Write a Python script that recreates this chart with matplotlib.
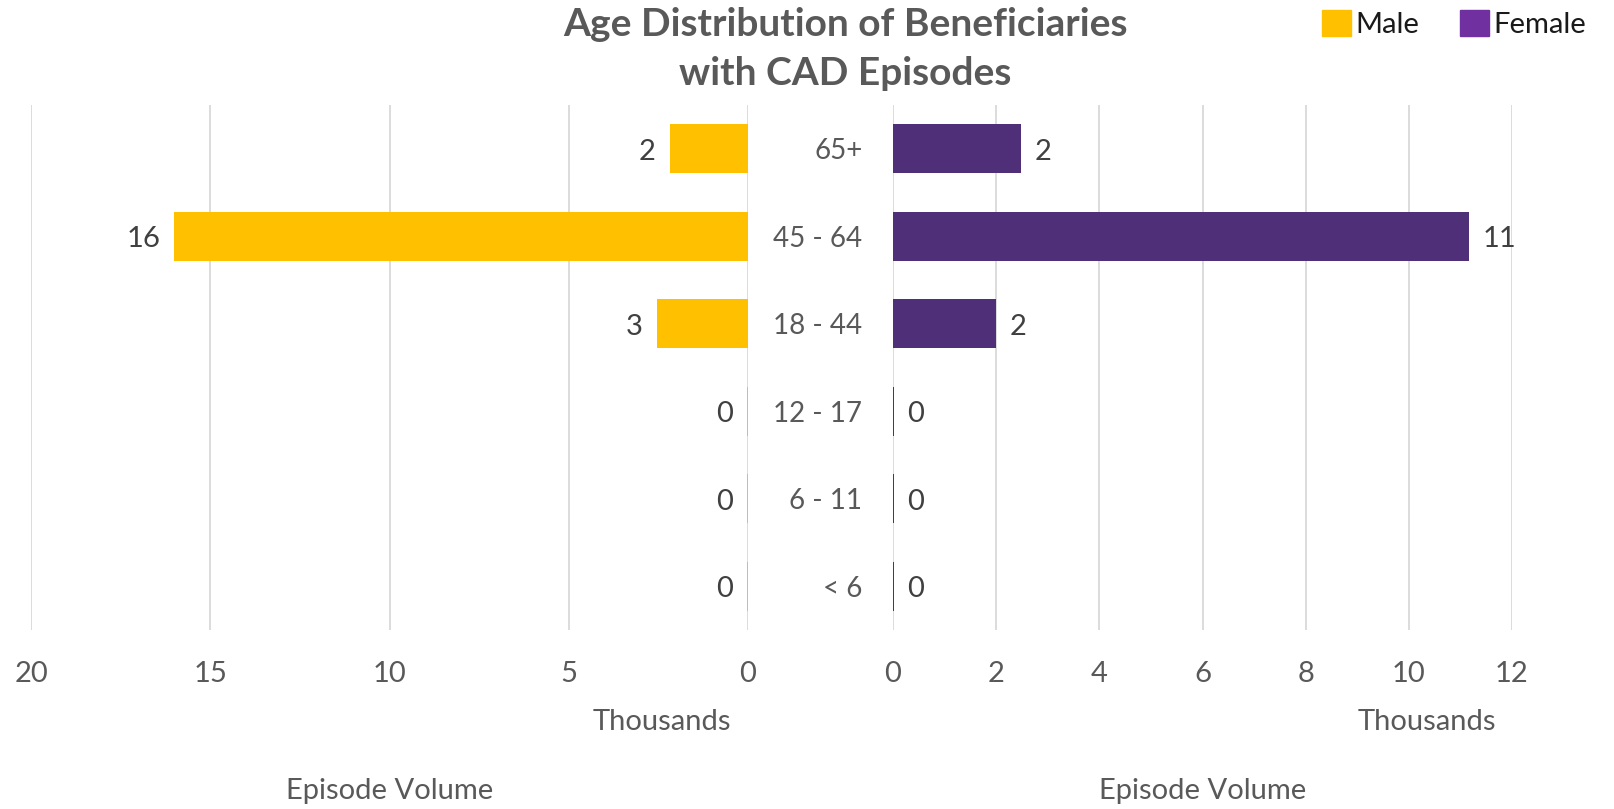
import matplotlib.pyplot as plt
from matplotlib.patches import Patch
import numpy as np

# data (thousands of episodes)
age_groups = ["< 6", "6 - 11", "12 - 17", "18 - 44", "45 - 64", "65+"]
male = [0.04, 0.04, 0.04, 2.55, 16.0, 2.18]
female = [0.01, 0.01, 0.01, 2.0, 11.16, 2.48]
male_ticks = [0, 5, 10, 15, 20]
female_ticks = [0, 2, 4, 6, 8, 10, 12]

plt.rcParams['font.family'] = ['Lato', 'DejaVu Sans']

c_male = "#FFC000"
c_female_bar = "#4F3078"
c_female_leg = "#7030A0"
grid_c = "#D9D9D9"
tick_c = "#595959"
lab_c = "#404040"
fs = 21

fig = plt.figure(figsize=(16.14, 8.09), dpi=100)
axL = fig.add_axes([31 / 1614, 1 - 630 / 809, (748 - 31) / 1614, 525 / 809])
axR = fig.add_axes([893 / 1614, 1 - 630 / 809, (1512 - 893) / 1614, 525 / 809])

y = np.arange(len(age_groups))
h = 0.565

axL.barh(y, male, height=h, color=c_male)
axR.barh(y, female, height=h, color=c_female_bar)

axL.set_xlim(20, 0)
axR.set_xlim(0, 12)
for ax in (axL, axR):
    ax.set_ylim(-0.5, len(age_groups) - 0.5)
    for s in ax.spines.values():
        s.set_visible(False)
    ax.grid(axis="x", color=grid_c, linewidth=1.3)
    ax.set_axisbelow(True)
    ax.tick_params(axis="x", length=0, labelsize=fs, labelcolor=tick_c, pad=22)
    ax.set_xlabel("Episode Volume", fontsize=fs, color=tick_c, labelpad=66)

axL.set_xticks(male_ticks)
axR.set_xticks(female_ticks)
axL.set_yticks([])
axR.set_yticks(y)
axR.set_yticklabels(age_groups)
axR.tick_params(axis="y", length=0, labelsize=20, labelcolor=tick_c, pad=22)

# data labels
for yi, v in zip(y, male):
    axL.annotate(f"{v:.0f}", (v, yi), xytext=(-10, -2), textcoords="offset points",
                 ha="right", va="center", fontsize=fs, color=lab_c)
for yi, v in zip(y, female):
    axR.annotate(f"{v:.0f}", (v, yi), xytext=(10, -2), textcoords="offset points",
                 ha="left", va="center", fontsize=fs, color=lab_c)

# display unit labels
fig.text(662 / 1614, 1 - 722 / 809, "Thousands", ha="center", va="center", fontsize=fs, color=tick_c)
fig.text(1427 / 1614, 1 - 722 / 809, "Thousands", ha="center", va="center", fontsize=fs, color=tick_c)

fig.text(845 / 1614, 1 - 49 / 809, "Age Distribution of Beneficiaries\nwith CAD Episodes",
         ha="center", va="center", fontsize=28, fontweight="bold", color=tick_c, linespacing=1.45)

handles = [Patch(color=c_male, label="Male"), Patch(color=c_female_leg, label="Female")]
fig.legend(handles=handles, loc="upper right", bbox_to_anchor=(0.999, 1.02), ncol=2, frameon=False,
           fontsize=fs, handlelength=1.0, handleheight=1.0, handletextpad=0.15, columnspacing=1.4,
           labelcolor="#1a1a1a")

fig.savefig("out.png", dpi=100)
